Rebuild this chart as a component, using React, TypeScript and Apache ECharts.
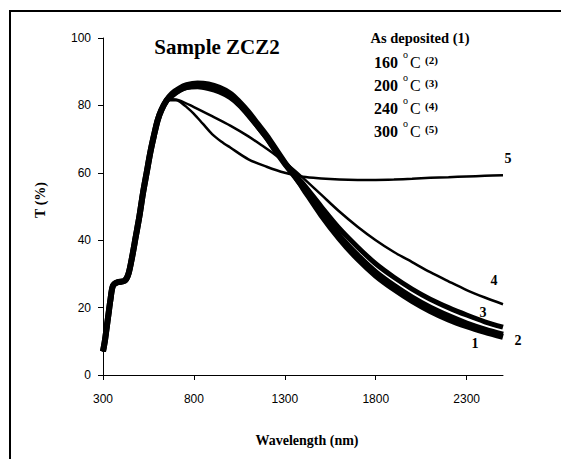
import React, { useEffect, useRef } from "react";
import * as echarts from "echarts";

const riseWl = [300, 310, 320, 330, 340, 355, 380, 420, 440, 460, 480, 500, 520, 540, 560, 580, 600, 620, 650];
const riseT = [7, 10, 14, 18, 22, 26.5, 27.5, 28, 30, 35, 41, 47, 54, 60, 66, 71, 75.5, 78.5, 81.5];

const bandWl = [680, 720, 760, 820, 880, 940, 1000, 1050, 1100, 1150, 1200, 1250, 1300, 1350, 1400, 1500, 1600, 1700, 1800, 1900, 2000, 2100, 2200, 2300, 2400, 2500];
const t1 = [83.5, 85, 86, 86.5, 86.2, 85.2, 83.5, 81, 78, 74.5, 71, 67, 63, 59.5, 55.5, 47.5, 40.5, 34.5, 29.5, 25.5, 22, 19, 16.5, 14.5, 12.8, 11.3];
const t2 = [83, 84.5, 85.5, 86, 85.6, 84.6, 83, 80.5, 77.5, 74, 70.5, 66.5, 62.7, 59.3, 55.8, 48.3, 41.3, 35.5, 30.5, 26.5, 23, 20, 17.5, 15.3, 13.5, 12];
const t3 = [83, 84.5, 85.3, 85.5, 85, 84, 82.3, 80, 77, 73.7, 70.3, 66.5, 63, 59.7, 56.8, 50, 43.5, 38, 33, 29, 25.5, 22.5, 20, 17.8, 15.8, 14.2];

const wl4 = [680, 720, 800, 900, 1000, 1100, 1177, 1250, 1325, 1400, 1500, 1600, 1700, 1800, 1900, 2000, 2100, 2200, 2300, 2400, 2500];
const t4 = [81.8, 81.5, 79.5, 76.8, 74, 70.8, 68, 65.2, 62, 58.5, 53.5, 48.5, 44, 40, 36.5, 33.5, 30.5, 27.8, 25.2, 23, 21];

const wl5 = [680, 700, 720, 760, 800, 850, 900, 950, 1000, 1100, 1200, 1300, 1400, 1500, 1600, 1700, 1800, 1900, 2000, 2100, 2200, 2300, 2400, 2500];
const t5 = [81.5, 81.5, 81.2, 79.5, 77.5, 74.5, 71.5, 69.3, 67.5, 64, 61.8, 60, 58.8, 58.3, 58, 57.9, 57.9, 58, 58.2, 58.5, 58.7, 58.9, 59.1, 59.3];

const xTicks = [300, 800, 1300, 1800, 2300];

const curveLabels = ["1", "2", "3", "4", "5"];
const legendTemps = ["160", "200", "240", "300"];
const legendNums = ["(2)", "(3)", "(4)", "(5)"];

function pairs(wl: number[], t: number[]) {
  return riseWl.map((w, i) => [w, riseT[i]]).concat(wl.map((w, i) => [w, t[i]]));
}

const SERIF = "Liberation Serif";
const SANS = "Liberation Sans";

function txt(text: string, x: number, y: number, size: number, bold: boolean, align = "left", extra: any = {}) {
  return {
    type: "text",
    x,
    y,
    ...extra,
    style: {
      text,
      fontFamily: SERIF,
      fontSize: size,
      fontWeight: bold ? "bold" : "normal",
      fill: "#000",
      align,
      verticalAlign: "middle",
    },
  };
}

export default function App() {
  const ref = useRef<HTMLDivElement>(null);
  useEffect(() => {
    document.body.style.margin = "0";
    const chart = echarts.init(ref.current!, null, { renderer: "svg" });
    const line = (name: string, data: number[][], w: number) => ({
      type: "line",
      name,
      data,
      showSymbol: false,
      smooth: 0.3,
      lineStyle: { color: "#000", width: w },
      itemStyle: { color: "#000" },
    });
    const labelPos: [string, number, number][] = [
      [curveLabels[0], 475, 343],
      [curveLabels[1], 518, 340],
      [curveLabels[2], 483, 312],
      [curveLabels[3], 494, 280],
      [curveLabels[4], 508, 158],
    ];
    const legendY = [62, 85, 108, 131];
    const graphic: any[] = [
      { type: "rect", shape: { x: 10, y: 11, width: 600, height: 500 }, style: { fill: "none", stroke: "#000", lineWidth: 2 }, silent: true },
      txt("Sample ZCZ2", 217, 47, 21, true, "center"),
      txt("As deposited (1)", 420, 38, 14.5, true, "center"),
      txt("T (%)", 40, 200, 14, true, "center", { rotation: Math.PI / 2 }),
      txt("Wavelength (nm)", 307, 440, 14, true, "center"),
    ];
    legendTemps.forEach((t, i) => {
      const y = legendY[i];
      graphic.push(txt(t, 374, y, 16, true));
      graphic.push(txt("o", 403, y - 8, 10, false));
      graphic.push(txt("C", 410, y, 16, false));
      graphic.push(txt(legendNums[i], 425, y - 2, 11, true));
    });
    labelPos.forEach(([t, x, y]) => {
      graphic.push(txt(t, x, y, 14, true, "center"));
    });
    chart.setOption({
      animation: false,
      backgroundColor: "#fff",
      grid: { left: 103, right: 58, top: 38, bottom: 84 },
      xAxis: {
        type: "value",
        min: 300,
        max: 2500,
        axisLine: { onZero: false, lineStyle: { color: "#000", width: 1 } },
        axisTick: { customValues: xTicks, length: 5, lineStyle: { color: "#000" } },
        axisLabel: { customValues: xTicks, color: "#000", fontSize: 12, fontFamily: SANS, margin: 18, formatter: (v: number) => String(v) },
        splitLine: { show: false },
      },
      yAxis: {
        type: "value",
        min: 0,
        max: 100,
        interval: 20,
        axisLine: { show: true, lineStyle: { color: "#000", width: 1 } },
        axisTick: { show: true, length: 5, lineStyle: { color: "#000" } },
        axisLabel: { color: "#000", fontSize: 12, fontFamily: SANS, margin: 12 },
        splitLine: { show: false },
      },
      series: [
        line("1", pairs(bandWl, t1), 6),
        line("2", pairs(bandWl, t2), 6),
        line("3", pairs(bandWl, t3), 5),
        line("4", pairs(wl4, t4), 2.5),
        line("5", pairs(wl5, t5), 2.5),
      ],
      graphic,
    });
    return () => chart.dispose();
  }, []);
  return <div ref={ref} style={{ width: 561, height: 459 }} />;
}
